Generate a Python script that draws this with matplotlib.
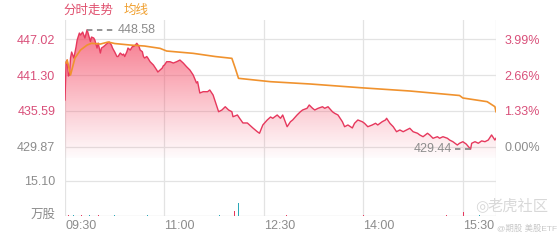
import numpy as np
import matplotlib
matplotlib.use("Agg")
import matplotlib.pyplot as plt
from matplotlib.patches import Polygon

plt.rcParams['font.family'] = ['Liberation Sans', 'Noto Sans CJK SC', 'DejaVu Sans']

# ---- data (minutes after 09:30, values) ----
price_min = [0, 1, 2, 3, 4, 5, 6, 8, 10, 11, 13, 14, 16, 18, 20, 23, 24, 26, 27, 29, 30, 32, 33, 35, 38,
             40, 42, 43, 45, 47, 48, 50, 52, 53, 54, 56, 57, 59, 61, 62, 63, 65, 67, 68, 70, 71, 72, 74,
             75, 77, 80, 81, 83, 84, 86, 88, 89, 90, 92, 95, 98, 101, 104, 107, 110, 113, 116, 119, 120,
             122, 125, 129, 131, 134, 137, 139, 142, 145, 148, 151, 152, 156, 158, 161, 165, 167, 170,
             174, 176, 179, 183, 186, 188, 192, 195, 197, 201, 204, 206, 210, 213, 215, 219, 221, 224,
             226, 229, 233, 235, 238, 242, 244, 247, 251, 253, 256, 260, 262, 265, 269, 271, 274, 278,
             281, 283, 287, 290, 291, 294, 297, 300, 303, 306, 309, 312, 315, 319, 321, 324, 328, 330,
             333, 337, 339, 342, 346, 348, 351, 355, 357, 360, 363, 367, 368, 371, 374, 377, 380, 383,
             386, 388, 389, 390]
price_val = [437.32, 443.40, 443.72, 441.16, 441.32, 444.04, 445.00, 444.04, 445.80, 446.92, 448.04,
             447.72, 448.20, 447.24, 448.58, 446.68, 447.40, 447.24, 446.92, 445.64, 446.44, 444.84,
             445.64, 445.88, 446.36, 446.60, 446.12, 445.64, 445.00, 444.28, 444.28, 444.84, 444.52,
             444.68, 444.28, 445.05, 445.64, 445.32, 445.88, 445.88, 446.01, 446.40, 445.88, 445.32,
             445.05, 444.28, 444.04, 444.28, 444.04, 443.45, 442.92, 442.65, 442.12, 441.80, 442.12,
             442.44, 442.81, 442.92, 443.45, 443.45, 443.24, 443.45, 443.72, 443.24, 442.65, 442.12,
             441.32, 440.04, 440.25, 438.44, 438.65, 438.65, 438.92, 438.12, 436.52, 435.44, 435.72,
             436.24, 435.72, 435.44, 434.64, 434.92, 434.39, 433.64, 433.64, 433.32, 432.84, 432.24,
             431.99, 433.32, 434.12, 434.60, 434.39, 434.92, 434.39, 434.92, 433.04, 433.84, 434.12,
             434.92, 435.44, 435.72, 435.99, 436.52, 435.99, 435.72, 435.99, 436.24, 435.99, 436.24,
             435.44, 435.19, 434.92, 433.84, 433.04, 433.32, 432.84, 433.59, 434.12, 433.84, 433.59,
             433.04, 433.32, 433.59, 433.32, 433.84, 434.12, 434.39, 433.59, 433.04, 432.24, 432.52,
             432.24, 432.52, 432.79, 432.24, 431.99, 431.72, 431.44, 431.99, 431.72, 431.19, 431.44,
             431.19, 431.44, 431.19, 430.91, 430.64, 430.11, 430.39, 430.64, 430.27, 429.44, 430.39,
             430.64, 430.39, 430.77, 430.64, 430.91, 431.72, 431.19, 430.91, 431.19]

avg_min = [1, 2, 5, 9, 14, 20, 24, 32, 39, 45, 59, 72, 86, 92, 116, 136, 151, 154, 157, 186, 222,
           267, 312, 357, 360, 382, 389, 390]
avg_val = [443.24, 443.72, 441.32, 444.04, 445.32, 446.12, 446.40, 446.28, 446.60, 446.36, 446.12,
           445.96, 445.59, 445.16, 444.79, 444.28, 443.99, 442.44, 440.79, 440.25, 439.88, 439.29,
           438.76, 438.04, 437.64, 437.05, 436.25, 435.44]

vol_min = [3, 8, 15, 22, 30, 45, 60, 75, 95, 110, 125, 140, 153, 157, 170, 185, 200, 215, 230, 250,
           270, 290, 310, 330, 345, 361, 375, 390]
vol_val = [0.3, 0.3, 0.4, 0.3, 0.3, 0.3, 0.2, 0.3, 0.2, 0.2, 0.2, 0.3, 2.3, 5.5, 0.2, 0.2, 0.3, 0.2,
           0.2, 0.2, 0.3, 0.2, 0.2, 0.2, 0.3, 1.7, 0.3, 22.4]
vol_up = [False, True, False, True, False, True, False, True, False, True, False, True, False, True,
          False, True, False, True, False, True, False, True, False, True, False, False, True, True]

prev_close = 429.87
price_ticks = [447.02, 441.30, 435.59, 429.87]
pct_labels = ["3.99%", "2.66%", "1.33%", "0.00%"]
time_ticks = [0, 90, 180, 270, 360]
time_labels = ["09:30", "11:00", "12:30", "14:00", "15:30"]
vol_tick = 15.10
max_label = "448.58"
min_label = "429.44"

# ---- style ----
RED = '#e6385d'
ORANGE = '#f0922e'
PINK_TXT = '#d9507a'
GRAY_TXT = '#8c8c8c'
GRID = '#e3e3e3'
FS = 9

W, H = 560, 240
fig = plt.figure(figsize=(W / 100, H / 100), dpi=100)

def fx(px):
    return px / W

def fy(py):
    return 1 - py / H

L, R = 65, 496
ax = fig.add_axes([fx(L), fy(158), fx(R - L), fy(20) - fy(158)])
axv = fig.add_axes([fx(L), fy(216), fx(R - L), fy(158) - fy(216)])

ylo, yhi = 428.03, 450.13
ax.set_xlim(0, 390)
ax.set_ylim(ylo, yhi)
axv.set_xlim(0, 390)
axv.set_ylim(0, 25.02)

for a in (ax, axv):
    for s in a.spines.values():
        s.set_visible(False)
    a.tick_params(length=0)
    a.set_facecolor('none')
    for t in time_ticks + [390]:
        a.axvline(t, color=GRID, lw=0.9, zorder=0)

for v in price_ticks:
    ax.axhline(v, color=GRID, lw=0.9, zorder=0)
axv.axhline(vol_tick, color=GRID, lw=0.9, zorder=0)
axv.axhline(0, color='#d6d6d6', lw=0.9, zorder=0)

# gradient fill under the price line
n = 256
alpha = np.linspace(0.03, 0.85, n) ** 1.1
rgba = np.zeros((n, 1, 4))
rgba[:, 0, 0] = 0.96
rgba[:, 0, 1] = 0.30
rgba[:, 0, 2] = 0.40
rgba[:, 0, 3] = alpha
im = ax.imshow(rgba, extent=[0, 390, ylo, yhi], aspect='auto', origin='lower', zorder=1,
               interpolation='bilinear')
verts = list(zip(price_min, price_val)) + [(price_min[-1], ylo), (price_min[0], ylo)]
poly = Polygon(verts, closed=True, facecolor='none', edgecolor='none', transform=ax.transData)
ax.add_patch(poly)
im.set_clip_path(poly)

ax.plot(price_min, price_val, color=RED, lw=1.0, zorder=3)
ax.plot(avg_min, avg_val, color=ORANGE, lw=1.2, zorder=4)

# volume
colors = ['#2aa8b8' if u else '#e6385d' for u in vol_up]
axv.bar(vol_min, vol_val, width=0.9, color=colors, zorder=2)

# ticks
ax.set_xticks([])
ax.set_yticks(price_ticks)
ax.set_yticklabels([f"{v:.2f}" for v in price_ticks], fontsize=FS)
for lab, v in zip(ax.get_yticklabels(), price_ticks):
    lab.set_color(GRAY_TXT if abs(v - prev_close) < 1e-6 else PINK_TXT)
ax.tick_params(axis='y', pad=7)

axr = ax.twinx()
axr.set_ylim(ylo, yhi)
axr.set_yticks(price_ticks)
axr.set_yticklabels(pct_labels, fontsize=FS)
for lab, s in zip(axr.get_yticklabels(), pct_labels):
    lab.set_color(GRAY_TXT if s == "0.00%" else PINK_TXT)
axr.tick_params(length=0, pad=6)
for s in axr.spines.values():
    s.set_visible(False)

axv.set_yticks([vol_tick, 1.2])
axv.set_yticklabels([f"{vol_tick:.2f}", "万股"], fontsize=FS, color=GRAY_TXT)
axv.tick_params(axis='y', pad=7)
axv.set_xticks(time_ticks)
axv.set_xticklabels(time_labels, fontsize=FS, color=GRAY_TXT)
for lab in axv.get_xticklabels():
    lab.set_horizontalalignment('left')
axv.tick_params(axis='x', pad=3)

# max / min annotations
imax = int(np.argmax(price_val))
imin = int(np.argmin(price_val))
xmax, vmax = price_min[imax], price_val[imax]
xmin, vmin = price_min[imin], price_val[imin]
ax.plot([xmax, xmax + 24], [vmax, vmax], color='#8c8c8c', lw=1.3, ls=(0, (3, 2.5)), zorder=5)
ax.text(xmax + 28, vmax, max_label, fontsize=FS, color=GRAY_TXT, va='center', ha='left', zorder=6)
ax.plot([xmin - 14, xmin], [vmin, vmin], color='#8c8c8c', lw=1.3, ls=(0, (3, 2.5)), zorder=5)
ax.text(xmin - 17, vmin, min_label, fontsize=FS, color=GRAY_TXT, va='center', ha='right', zorder=6)

# title / legend
fig.text(fx(63), fy(11), "分时走势", fontsize=FS, color='#e0506e', va='center', ha='left')
fig.text(fx(124), fy(11), "均线", fontsize=FS, color='#f0a030', va='center', ha='left')

# watermark
fig.text(fx(488), fy(207), "老虎社区", fontsize=11, color='#d8d8d8', va='center', ha='left')
fig.text(fx(482), fy(207), "◎", fontsize=11, color='#d8d8d8', va='center', ha='center',
         family=['DejaVu Sans'])
fig.text(fx(557), fy(229), "@期股 美股ETF", fontsize=6, color='#c8c8c8', va='center', ha='right')

fig.savefig("out.png", dpi=100)
